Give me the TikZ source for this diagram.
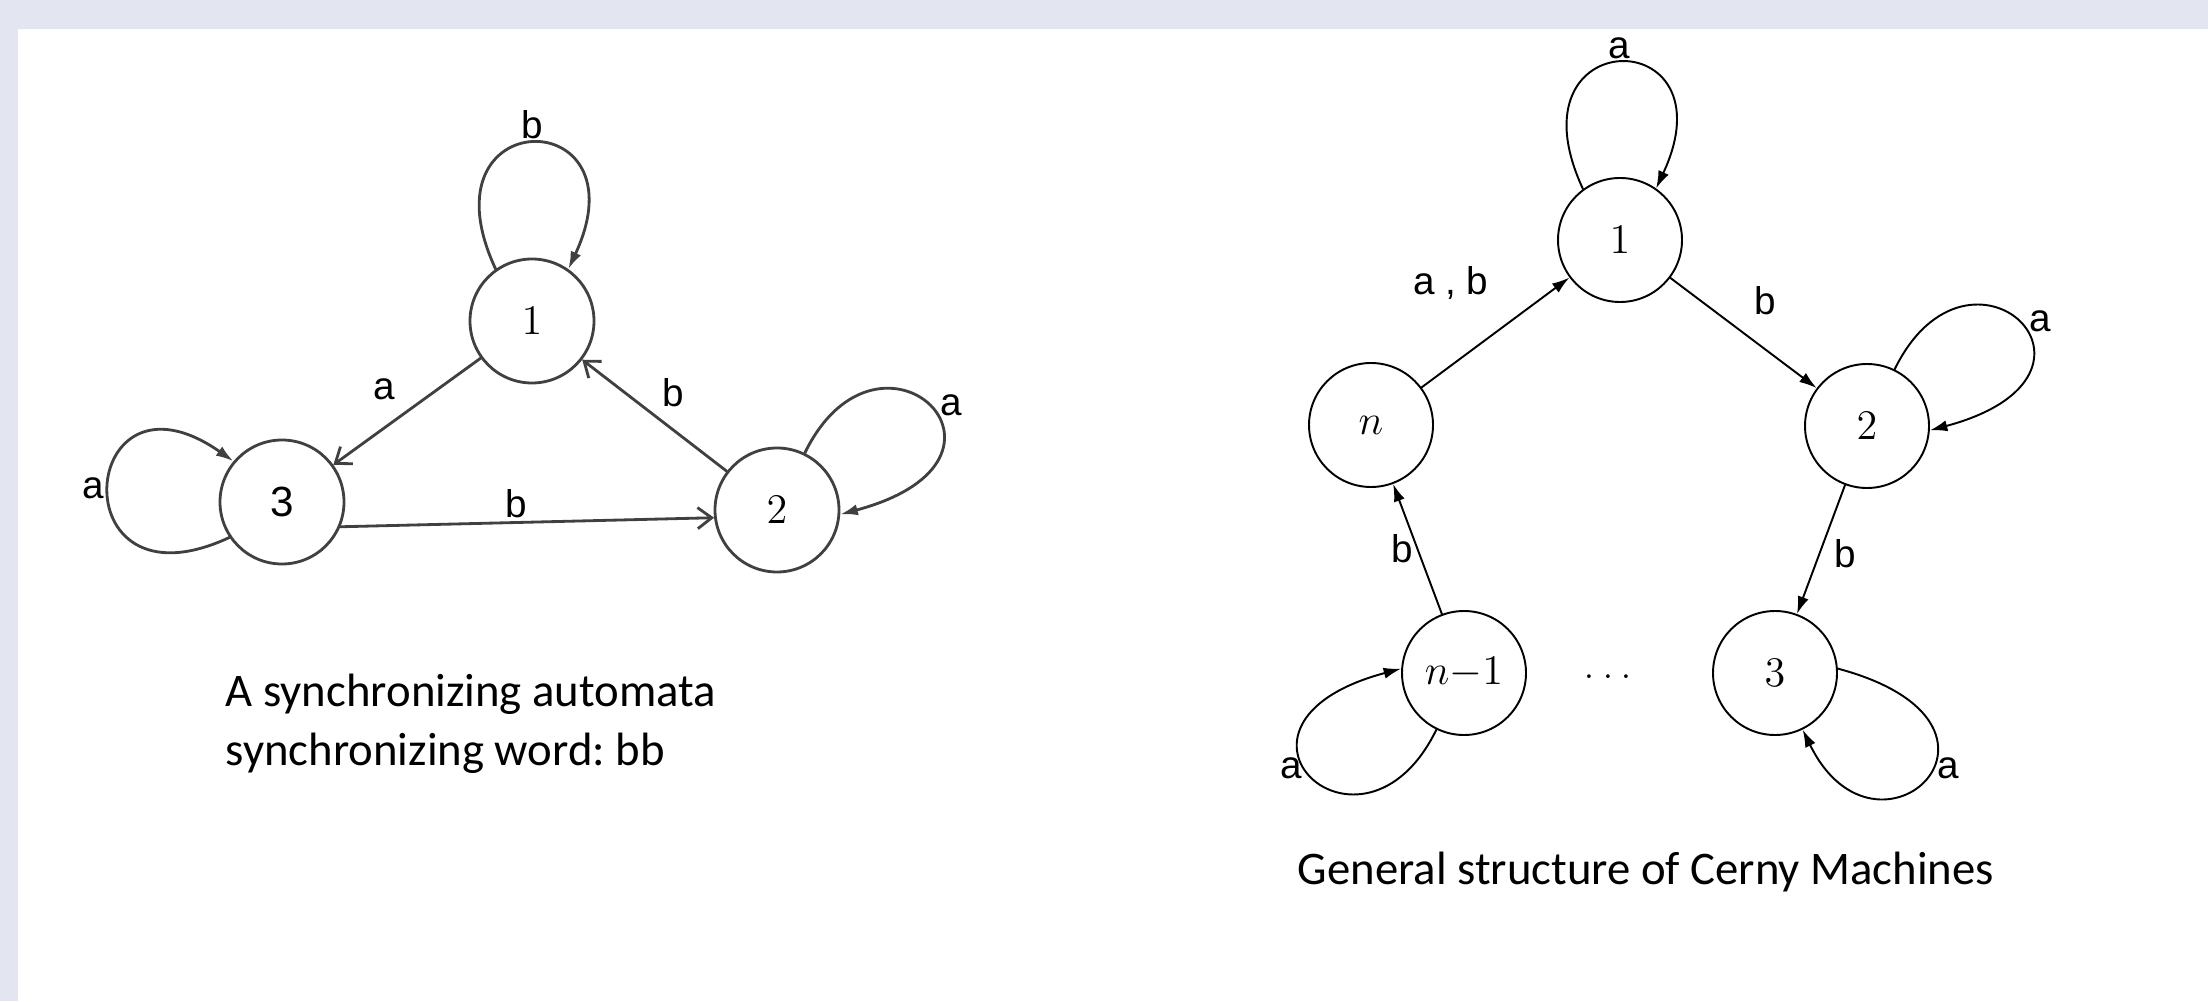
\documentclass[tikz,border=0pt]{standalone}
\usepackage{fontspec}
\newfontfamily\capfont{Carlito}
\newfontfamily\edgefont{Liberation Sans}
\usetikzlibrary{arrows.meta}
\definecolor{framegray}{HTML}{E3E6F0}
\frenchspacing
\begin{document}
\begin{tikzpicture}[line join=round, line cap=round, >={Latex[length=5pt,width=3.2pt]},
  state/.style={circle, draw, minimum size=1.24cm, inner sep=0pt, font=\fontsize{12}{14}\selectfont},
  lab/.style={font=\edgefont\fontsize{11}{13}\selectfont, inner sep=1pt},
  capt/.style={font=\capfont\fontsize{13.3}{16.7}\selectfont, align=left, anchor=base west, inner sep=0pt},
  barb/.style={-{Straight Barb[length=4pt,width=6pt]}},
  old/.style={line width=0.8pt, draw=black!75}, new/.style={line width=0.55pt}]
\fill[framegray] (0,0) rectangle (22.08,10.01);
\fill[white] (0.18,0) rectangle (22.08,9.72);
\useasboundingbox (0,0) rectangle (22.08,10.01);
% synchronizing automaton, word bb
\foreach \n/\x/\y/\t in {L1/5.32/6.80/$1$, L2/7.77/4.91/$2$, L3/2.82/4.99/{\edgefont 3}}
  \node[state, old] (\n) at (\x,\y) {\t};
\draw[old, ->] (L1.125) .. controls +(115:1.85) and +(65:1.85) .. node[lab, above] {b} (L1.55);
\draw[old, ->] (L3.214) .. controls +(205:1.9) and +(145:1.9) .. node[lab, left] {a} (L3.140);
\draw[old, ->] (L2.64) .. controls +(64:1.7) and +(15:2.15) .. node[lab, right=2pt] {a} (L2.-4);
\draw[old, barb] (L1) -- node[lab, above left=2pt] {a} (L3);
\draw[old, barb] (L2) -- node[lab, above right=1pt] {b} (L1);
\draw[old, barb] (L3.-23) -- node[lab, above, pos=0.47] {b} (L2.187);
\node[capt] (cap1) at (2.25,2.36) {A synchronizing automata\\synchronizing word: bb};
% Cerny machine
\foreach \n/\x/\y/\t in {R1/16.20/7.61/1, Rn/13.71/5.76/n, R2/18.67/5.75/2, Rnm/14.64/3.28/n{-}1, R3/17.75/3.28/3}
  \node[state, new] (\n) at (\x,\y) {$\t$};
\node (dots) at (16.08,3.24) {.\hspace{2.4pt}.\hspace{2.4pt}.};
\draw[new, ->] (R1.126) .. controls +(115:1.85) and +(65:1.85) .. node[lab, above] {a} (R1.55);
\draw[new, ->] (Rn) -- node[lab, pos=0.6, above left=5pt] {a , b} (R1);
\draw[new, ->] (R1) -- node[lab, pos=0.47, above right=3pt] {b} (R2);
\draw[new, ->] (R2.64) .. controls +(64:1.7) and +(15:2.15) .. node[lab, right=2pt] {a} (R2.-4);
\draw[new, ->] (R2) -- node[lab, pos=0.53, right=3pt] {b} (R3);
\draw[new, ->] (R3.4) .. controls +(-15:2.15) and +(-64:1.7) .. node[lab, right, pos=0.45] {a} (R3.-64);
\draw[new, ->] (Rnm.244) .. controls +(244:1.7) and +(195:2.15) .. node[lab, left, pos=0.55] {a} (Rnm.176);
\draw[new, ->] (Rnm) -- node[lab, left] {b} (Rn);
\node[capt] (cap2) at (12.97,1.17) {General structure of Cerny Machines};
\end{tikzpicture}
\end{document}
